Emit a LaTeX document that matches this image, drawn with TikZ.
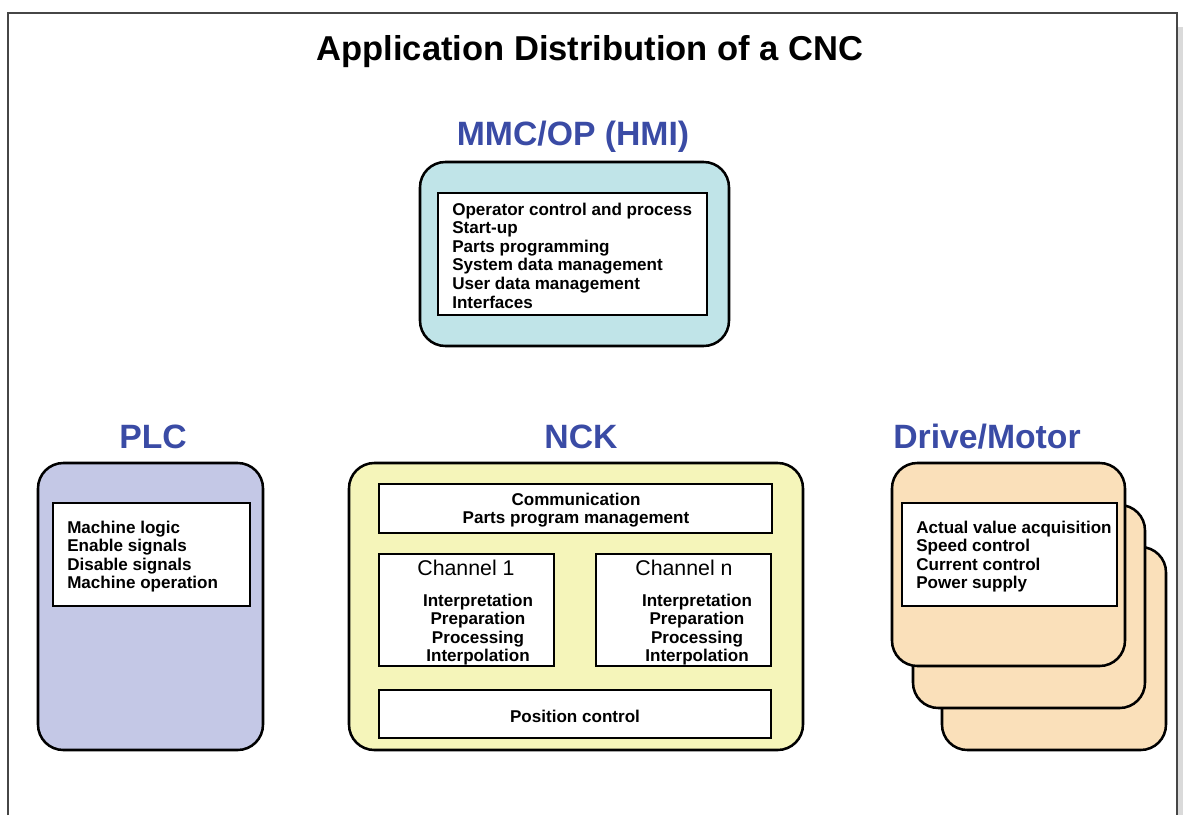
\documentclass[tikz,border=0pt]{standalone}
\usepackage{fontspec}
\setmainfont{Liberation Sans}
\usetikzlibrary{fit}

\definecolor{headblue}{RGB}{58,75,165}
\definecolor{hmifill}{RGB}{192,228,232}
\definecolor{plcfill}{RGB}{196,200,230}
\definecolor{nckfill}{RGB}{245,245,186}
\definecolor{drivefill}{RGB}{250,224,186}
\definecolor{framegray}{RGB}{70,70,70}
\definecolor{shadowgray}{RGB}{218,218,218}

\tikzset{
  unitbox/.style={draw=black, line width=1.9pt, rounded corners=19pt, inner sep=0pt},
  taskbox/.style={draw=black, line width=1.1pt, fill=white, inner sep=0pt},
  heading/.style={text=headblue, font=\fontsize{25.3}{29}\selectfont\bfseries, inner sep=0pt, anchor=base},
  tasks/.style={font=\fontsize{12.8}{13.95}\selectfont\bfseries, inner sep=0pt},
  chanhead/.style={font=\fontsize{16}{18}\selectfont, inner sep=0pt, anchor=base},
}

\begin{document}
\begin{tikzpicture}[x=0.75pt,y=-0.75pt]
\useasboundingbox (0,0) rectangle (1183,815);

% page frame, open at the bottom, with its grey shadow on the right
\fill[shadowgray] (1178,27) rectangle (1183,815);
\draw[framegray, line width=1.1pt] (8,815) -- (8,13) -- (1177,13) -- (1177,815);

% title
\node[font=\fontsize{25.9}{30}\selectfont\bfseries, inner sep=0pt, anchor=base] (title) at (590,60) {Application Distribution of a CNC};

% ---------- MMC/OP (HMI) ----------
\node[heading] (hmihead) at (573,145) {MMC/OP (HMI)};
\node[unitbox, fill=hmifill, fit={(420,162) (729,346)}] (hmi) {};
\node[taskbox, fit={(438,193) (707,315)}] (hmitasks) {};
\node[tasks, align=left, anchor=north west] (hmitext) at (452,202.5)
  {Operator control and process\\Start-up\\Parts programming\\System data management\\User data management\\Interfaces};

% ---------- PLC ----------
\node[heading] (plchead) at (153,448) {PLC};
\node[unitbox, fill=plcfill, fit={(38,463) (263,750)}] (plc) {};
\node[taskbox, fit={(53,503) (250,606)}] (plctasks) {};
\node[tasks, align=left, anchor=north west] (plctext) at (67,520.5)
  {Machine logic\\Enable signals\\Disable signals\\Machine operation};

% ---------- NCK ----------
\node[heading] (nckhead) at (581,448) {NCK};
\node[unitbox, fill=nckfill, fit={(349,463) (803,750)}] (nck) {};
\node[taskbox, fit={(379,484) (772,533)}] (comm) {};
\node[tasks, align=center, anchor=north] (commtext) at (576,492.5)
  {Communication\\Parts program management};

\node[taskbox, fit={(379,554) (554,666)}] (chan1) {};
\node[chanhead] (chan1head) at (466,575) {Channel 1};
\node[tasks, align=center, anchor=north] (chan1text) at (478,593.5)
  {Interpretation\\Preparation\\Processing\\Interpolation};

\node[taskbox, fit={(596,554) (771,666)}] (chann) {};
\node[chanhead] (channhead) at (684,575) {Channel n};
\node[tasks, align=center, anchor=north] (channtext) at (697,593.5)
  {Interpretation\\Preparation\\Processing\\Interpolation};

\node[taskbox, fit={(379,690) (771,738)}] (posctl) {};
\node[tasks, anchor=base] (posctltext) at (575,722) {Position control};

% ---------- Drive/Motor (stack of three cards) ----------
\node[heading] (drivehead) at (987,448) {Drive/Motor};
\node[unitbox, fill=drivefill, fit={(942,547) (1166,750)}] (drive3) {};
\node[unitbox, fill=drivefill, fit={(913,505) (1145,708)}] (drive2) {};
\node[unitbox, fill=drivefill, fit={(892,463) (1125,666)}] (drive1) {};
\node[taskbox, fit={(902,503) (1117,606)}] (drivetasks) {};
\node[tasks, align=left, anchor=north west] (drivetext) at (916,520.5)
  {Actual value acquisition\\Speed control\\Current control\\Power supply};
\end{tikzpicture}
\end{document}
